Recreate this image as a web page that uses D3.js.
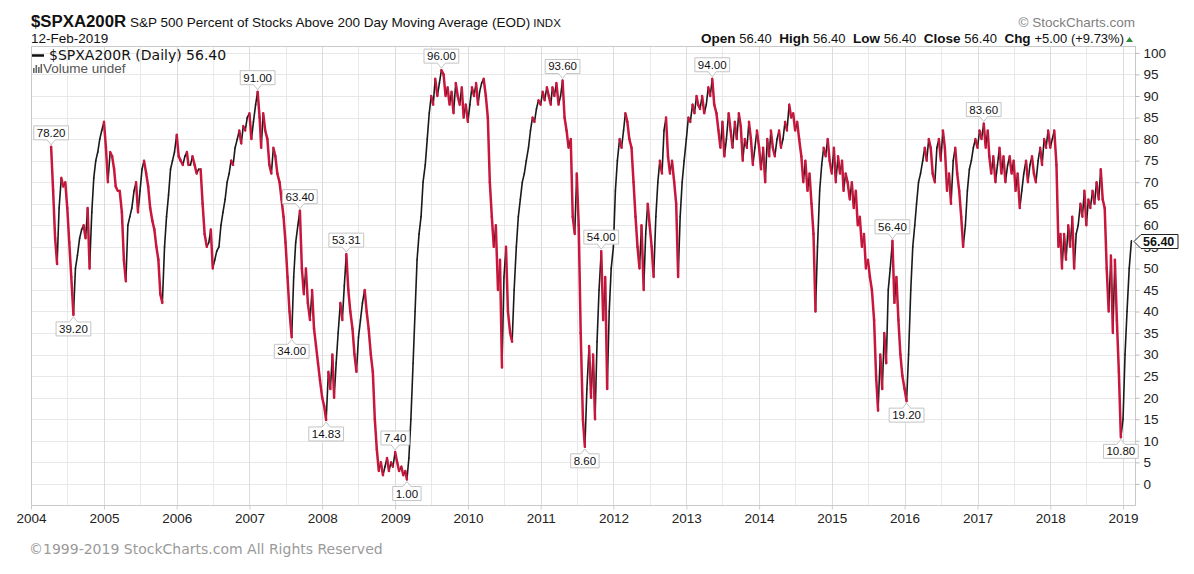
<!DOCTYPE html>
<html>
<head>
<meta charset="utf-8">
<script src="https://cdn.jsdelivr.net/npm/d3@7"></script>
<style>
  body { margin: 0; background: #fff; }
  svg { display: block; }
  .arial { font-family: "Liberation Sans", Arial, sans-serif; }
  .verd { font-family: "DejaVu Sans", Verdana, sans-serif; }
</style>
</head>
<body>
<svg width="1194" height="574"></svg>
<script>
const svg = d3.select("svg");
const width = 1194;
const height = 574;
const plot = { left: 31, right: 1135, top: 46, bottom: 505 };

// tick labels
const yearTicks = d3.range(2004, 2020);
const yTicks = d3.range(0, 101, 5);

// readings taken on the 1st, 11th and 21st of each month
const dekadDays = [1, 11, 21];
const v2004 = [78.2, 68, 57, 51, 64, 71, 69, 70, 64, 56, 48, 39.2, 50, 53, 57, 59, 60, 57, 64, 50, 63, 71, 75, 77, 80, 82]; // from 11-Apr
const v2005 = [84, 78, 70, 77, 76, 73, 69, 68, 68, 63, 52, 47, 60, 62, 64, 68, 70, 63, 68, 73, 75, 72, 69, 64, 61, 59, 55, 52, 44, 42, 55, 62, 67, 73, 75, 77];
const v2006 = [81, 76, 75, 74, 76, 77, 74, 74, 76, 74, 72, 73, 73, 65, 58, 55, 56, 59, 50, 52, 54, 55, 60, 63, 66, 70, 72, 75, 74, 78, 80, 82, 79, 83, 82, 85];
const v2007 = [86, 80, 84, 88, 91, 85, 78, 86, 82, 80, 74, 72, 78, 76, 72, 70, 66, 62, 56, 48, 40, 34, 48, 56, 60, 63.4, 50, 44, 50, 42, 38, 45, 36, 32, 28, 24];
const v2008 = [20, 18, 14.83, 26, 22, 30, 20, 28, 35, 42, 38, 46, 53.31, 45, 40, 36, 30, 26, 34, 38, 42, 45, 40, 36, 30, 26, 15, 8, 3, 5, 2, 4, 6, 3, 5, 4];
const v2009 = [7.4, 5, 3, 4, 2, 3, 1, 6, 15, 28, 40, 52, 58, 62, 70, 74, 80, 86, 90, 88, 94, 90, 93, 96, 95, 90, 92, 88, 91, 86, 93, 90, 88, 92, 85, 88];
const v2010 = [84, 88, 92, 90, 93, 88, 91, 93, 94, 90, 85, 70, 62, 55, 60, 45, 52, 27, 48, 55, 40, 35, 33, 45, 55, 62, 66, 70, 72, 75, 78, 82, 85, 84, 87, 89];
const v2011 = [88, 91, 89, 92, 90, 88, 92, 90, 93, 88, 90, 93.6, 85, 82, 78, 80, 62, 58, 72, 60, 35, 15, 8.6, 22, 32, 20, 30, 15, 33, 45, 54, 38, 48, 22, 40, 50];
const v2012 = [55, 68, 75, 80, 78, 82, 86, 84, 80, 78, 70, 62, 55, 50, 60, 45, 58, 65, 60, 55, 48, 62, 70, 75, 72, 82, 85, 76, 72, 75, 70, 65, 48, 62, 70, 75];
const v2013 = [80, 85, 84, 88, 86, 90, 88, 87, 90, 86, 88, 92, 90, 94, 88, 86, 82, 78, 84, 76, 80, 86, 82, 78, 84, 80, 86, 83, 75, 80, 78, 84, 80, 74, 78, 82];
const v2014 = [78, 73, 78, 70, 80, 76, 82, 78, 76, 80, 82, 78, 80, 84, 82, 88, 85, 86, 82, 84, 80, 76, 70, 75, 68, 72, 65, 58, 40, 55, 68, 74, 78, 76, 80, 75];
const v2015 = [72, 78, 70, 76, 72, 75, 68, 72, 70, 66, 70, 64, 68, 60, 62, 55, 58, 50, 52, 48, 45, 38, 25, 17, 30, 22, 35, 28, 45, 50, 56.4, 42, 48, 38, 30, 25];
const v2016 = [22, 19.2, 30, 45, 55, 60, 65, 70, 72, 75, 78, 75, 80, 78, 72, 70, 78, 80, 75, 82, 78, 68, 72, 65, 75, 78, 72, 68, 62, 55, 60, 68, 73, 75, 78, 80];
const v2017 = [78, 82, 80, 83.6, 78, 82, 76, 72, 76, 70, 74, 78, 72, 76, 70, 74, 76, 72, 75, 68, 72, 64, 68, 72, 75, 70, 74, 76, 72, 70, 75, 78, 74, 80, 78, 82];
const v2018 = [78, 80, 82, 74, 55, 58, 50, 58, 52, 60, 55, 62, 50, 58, 60, 65, 62, 68, 60, 66, 64, 68, 65, 70, 66, 73, 66, 64, 50, 40, 53, 35, 52, 38, 26, 10.8];
const v2019 = [15, 30, 40, 50, 56.4]; // last one is 12-Feb

// dates that carry a value box
const labelDates = ["2004-04-11", "2004-08-01", "2007-02-11", "2007-08-01", "2007-09-11", "2008-01-21",
    "2008-05-01", "2009-01-01", "2009-03-01", "2009-08-21", "2011-04-21", "2011-08-11", "2011-11-01",
    "2013-05-11", "2015-11-01", "2016-01-11", "2017-02-01", "2018-12-21"];

const seriesByYear = [
    [2004, 10, v2004], [2005, 0, v2005], [2006, 0, v2006], [2007, 0, v2007], [2008, 0, v2008],
    [2009, 0, v2009], [2010, 0, v2010], [2011, 0, v2011], [2012, 0, v2012], [2013, 0, v2013],
    [2014, 0, v2014], [2015, 0, v2015], [2016, 0, v2016], [2017, 0, v2017], [2018, 0, v2018],
    [2019, 0, v2019]
];

let data = [];
seriesByYear.forEach(([yr, start, vals]) => {
    vals.forEach((v, k) => {
        const i = start + k;
        data.push({ date: new Date(yr, Math.floor(i / 3), dekadDays[i % 3]), value: v });
    });
});
data[data.length - 1].date = new Date(2019, 1, 12);
const last = data[data.length - 1];

//////////// SCALES ////////////

const x = d3.scaleTime()
    .domain([new Date(2004, 0, 1), new Date(2019, 2, 2)])
    .range([plot.left, plot.right]);

const y = d3.scaleLinear()
    .domain([-4.9, 101.6])
    .range([plot.bottom, plot.top]);

//////////// GRID ////////////

const grid = svg.append("g");

grid.selectAll("line.h")
    .data(yTicks)
    .enter().append("line")
    .attr("x1", plot.left).attr("x2", plot.right)
    .attr("y1", d => Math.round(y(d)) + 0.5).attr("y2", d => Math.round(y(d)) + 0.5)
    .attr("stroke", "#e8e8e8");

let vLines = [];
yearTicks.forEach(yr => { vLines.push(new Date(yr, 0, 1)); vLines.push(new Date(yr, 6, 1)); });
vLines = vLines.filter(d => x(d) < plot.right);

grid.selectAll("line.v")
    .data(vLines)
    .enter().append("line")
    .attr("x1", d => Math.round(x(d)) + 0.5).attr("x2", d => Math.round(x(d)) + 0.5)
    .attr("y1", plot.top).attr("y2", plot.bottom)
    .attr("stroke", d => d.getMonth() == 0 ? "#dcdcdc" : "#e9e9e9");

svg.append("rect")
    .attr("x", plot.left + 0.5).attr("y", plot.top + 0.5)
    .attr("width", plot.right - plot.left).attr("height", plot.bottom - plot.top)
    .attr("fill", "none").attr("stroke", "#c9c9c9");

//////////// AXES ////////////

const yAxis = svg.append("g")
    .attr("class", "arial")
    .attr("transform", "translate(" + (plot.right + 0.5) + ",0)")
    .call(d3.axisRight(y).tickValues(yTicks).tickSize(4).tickPadding(4));
yAxis.select(".domain").remove();
yAxis.selectAll("line").attr("stroke", "#bbb");
yAxis.selectAll("text").attr("fill", "#222").style("font-size", "13.5px");

const xAxis = svg.append("g")
    .attr("class", "arial")
    .attr("transform", "translate(0," + (plot.bottom + 0.5) + ")")
    .call(d3.axisBottom(x).tickValues(yearTicks.map(d => new Date(d, 0, 1)))
        .tickFormat(d3.timeFormat("%Y")).tickSize(4).tickPadding(4));
xAxis.select(".domain").remove();
xAxis.selectAll("line").attr("stroke", "#ccc");
xAxis.selectAll("text").attr("fill", "#222").style("font-size", "13.5px");

//////////// LINE ////////////

// rising steps in black, falling steps in red
const steps = d3.pairs(data);

svg.append("g")
    .selectAll("line")
    .data(steps.filter(p => p[1].value >= p[0].value))
    .enter().append("line")
    .attr("x1", p => x(p[0].date)).attr("y1", p => y(p[0].value))
    .attr("x2", p => x(p[1].date)).attr("y2", p => y(p[1].value))
    .attr("stroke", "#1a1a1a")
    .attr("stroke-width", 1.6)
    .attr("stroke-linecap", "round");

svg.append("g")
    .selectAll("line")
    .data(steps.filter(p => p[1].value < p[0].value))
    .enter().append("line")
    .attr("x1", p => x(p[0].date)).attr("y1", p => y(p[0].value))
    .attr("x2", p => x(p[1].date)).attr("y2", p => y(p[1].value))
    .attr("stroke", "#c8163c")
    .attr("stroke-width", 2.5)
    .attr("stroke-linecap", "round");

//////////// VALUE BOXES ////////////

const parseDay = d3.timeParse("%Y-%m-%d");
const fmt = d3.format(".2f");

labelDates.forEach(s => {
    const t = parseDay(s).getTime();
    const i = data.findIndex(d => d.date.getTime() == t);
    if (i < 0) return;
    const d = data[i];
    const prev = i > 0 ? data[i - 1].value : data[i + 1].value;
    const next = data[i + 1].value;
    const peak = d.value >= (prev + next) / 2;

    const g = svg.append("g")
        .attr("transform", "translate(" + x(d.date) + "," + y(d.value) + ")");
    const path = g.append("path");
    const txt = g.append("text")
        .attr("class", "arial")
        .attr("text-anchor", "middle")
        .attr("y", peak ? -10 : 18)
        .style("font-size", "11.5px")
        .attr("fill", "#111")
        .text(fmt(d.value));
    const w = txt.node().getComputedTextLength() / 2 + 3;
    const s0 = peak ? -1 : 1;
    // box with a small notch pointing at the point
    path.attr("d", "M0," + (2 * s0) + " L-4," + (7 * s0) + " H" + (-w) + " V" + (21 * s0) +
        " H" + w + " V" + (7 * s0) + " H4 Z")
        .attr("fill", "#fff")
        .attr("stroke", "#c4c4c4");
});

// last value tag on the right axis (sits over the 55 label, as in the original)
const ly = Math.round(y(last.value)) + 0.5;
svg.append("path")
    .attr("d", "M" + (plot.right - 1) + "," + ly + " L" + (plot.right + 6) + "," + (ly - 7) +
        " H1178 V" + (ly + 7) + " H" + (plot.right + 6) + " Z")
    .attr("fill", "#fff")
    .attr("stroke", "#222");
svg.append("text")
    .attr("class", "arial")
    .attr("x", plot.right + 8).attr("y", ly + 4.5)
    .style("font-size", "12.5px").style("font-weight", "bold")
    .attr("fill", "#111")
    .text(fmt(last.value));

//////////// HEADER / LEGEND ////////////

const title = svg.append("text")
    .attr("class", "arial")
    .attr("x", 31).attr("y", 27)
    .attr("fill", "#111");
title.append("tspan").style("font-size", "16.8px").style("font-weight", "bold").text("$SPXA200R");
title.append("tspan").style("font-size", "13.5px").text(" S&P 500 Percent of Stocks Above 200 Day Moving Average (EOD)");
title.append("tspan").style("font-size", "11.5px").text(" INDX");

svg.append("text")
    .attr("class", "arial")
    .attr("x", 31).attr("y", 43)
    .style("font-size", "13.5px")
    .attr("fill", "#111")
    .text("12-Feb-2019");

svg.append("text")
    .attr("class", "arial")
    .attr("x", 1135).attr("y", 27)
    .attr("text-anchor", "end")
    .style("font-size", "13.5px")
    .attr("fill", "#808080")
    .text("© StockCharts.com");

const ohlc = svg.append("text")
    .attr("class", "arial")
    .attr("x", 1124).attr("y", 43)
    .attr("text-anchor", "end")
    .style("font-size", "13.5px")
    .attr("fill", "#111");
[["Open", "56.40"], ["High", "56.40"], ["Low", "56.40"], ["Close", "56.40"], ["Chg", "+5.00 (+9.73%)"]]
    .forEach((p, k) => {
        ohlc.append("tspan").style("font-weight", "bold").text((k ? "  " : "") + p[0] + " ");
        ohlc.append("tspan").style("font-size", "13px").text(p[1]);
    });
ohlc.attr("xml:space", "preserve");
svg.append("path")
    .attr("d", "M1126,42 L1133,42 L1129.5,37 Z")
    .attr("fill", "#2e8b3a");

// legend inside the plot
svg.append("line")
    .attr("x1", 32).attr("x2", 44).attr("y1", 55.5).attr("y2", 55.5)
    .attr("stroke", "#111").attr("stroke-width", 2.5);
svg.append("text")
    .attr("class", "verd")
    .attr("x", 49).attr("y", 60)
    .style("font-size", "14px")
    .attr("fill", "#111")
    .text("$SPXA200R (Daily) 56.40");

[[33, 5], [35.5, 8], [38, 6], [40.5, 9]].forEach(b => {
    svg.append("rect")
        .attr("x", b[0]).attr("y", 73 - b[1]).attr("width", 1.6).attr("height", b[1])
        .attr("fill", "#666");
});
svg.append("text")
    .attr("class", "arial")
    .attr("x", 43).attr("y", 73)
    .style("font-size", "13.5px")
    .attr("fill", "#555")
    .text("Volume undef");

//////////// FOOTER ////////////

svg.append("text")
    .attr("class", "verd")
    .attr("x", 29).attr("y", 554)
    .style("font-size", "14px")
    .attr("fill", "#9a9a9a")
    .text("©1999-2019 StockCharts.com All Rights Reserved");
</script>
</body>
</html>
